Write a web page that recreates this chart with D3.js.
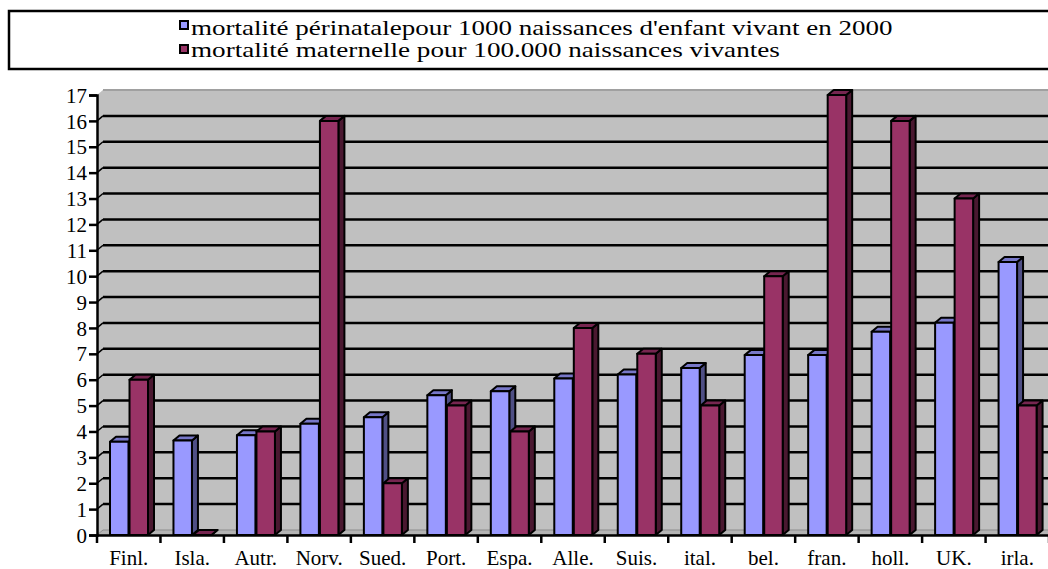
<!DOCTYPE html>
<html>
<head>
<meta charset="utf-8">
<script src="https://cdn.jsdelivr.net/npm/d3@7"></script>
<style>
  body { margin: 0; background: #fff; }
  svg { display: block; }
</style>
</head>
<body>
<svg id="chart"></svg>
<script>
// data
var categories = ['Finl.', 'Isla.', 'Autr.', 'Norv.', 'Sued.', 'Port.', 'Espa.', 'Alle.', 'Suis.', 'ital.', 'bel.', 'fran.', 'holl.', 'UK.', 'irla.'];
var perinatal = [3.6, 3.65, 3.85, 4.3, 4.55, 5.4, 5.55, 6.05, 6.2, 6.45, 6.95, 6.95, 7.85, 8.2, 10.55];
var maternal = [6, 0, 4, 16, 2, 5, 4, 8, 7, 5, 10, 17, 16, 13, 5];
var seriesNames = ['mortalit\u00e9 p\u00e9rinatalepour 1000 naissances d\'enfant vivant en 2000', 'mortalit\u00e9 maternelle pour 100.000 naissances vivantes'];
var yTicks = d3.range(0, 18);

var width = 1048;
var height = 569;
var dx = 6, dy = 5; // 3d depth
var serif = '"Liberation Serif", "Times New Roman", serif';

var svg = d3.select('#chart')
  .attr('width', width)
  .attr('height', height);

var y = d3.scaleLinear().domain([0, 17]).range([535, 95]);
var x = d3.scaleBand().domain(categories).range([97, 97 + 15 * 63.47]);
var xs = d3.scaleBand().domain([0, 1]).range([13, 51]).paddingInner(0.053);

var colors = [
  {front: '#9999FF', side: '#4F4F85', top: '#7777C8'},
  {front: '#993366', side: '#4A1830', top: '#762650'}
];

// walls and floor
var x0 = 97, yb = 535, yt = 95;
svg.append('polygon')
  .attr('points', [[x0, yb], [x0, yt], [x0 + dx, yt - dy], [x0 + dx, yb - dy]].join(' '))
  .attr('fill', '#C0C0C0');
svg.append('rect')
  .attr('x', x0 + dx).attr('y', yt - dy)
  .attr('width', width - x0).attr('height', yb - yt)
  .attr('fill', '#C0C0C0');
svg.append('line')
  .attr('x1', x0 + dx).attr('x2', width)
  .attr('y1', yt - dy).attr('y2', yt - dy)
  .attr('stroke', '#A0A0A0').attr('stroke-width', 2);
svg.append('polygon')
  .attr('points', [[x0, yb], [x0 + dx, yb - dy], [width + 10, yb - dy], [width + 10, yb]].join(' '))
  .attr('fill', '#B4B4B4').attr('stroke', '#8C8C8C').attr('stroke-width', 1);

// gridlines
var grid = svg.append('g');
yTicks.filter(function (v) { return v > 0 && v < 17; }).forEach(function (v) {
  grid.append('line')
    .attr('x1', x0 + dx).attr('x2', width)
    .attr('y1', y(v) - dy).attr('y2', y(v) - dy)
    .attr('stroke', '#000').attr('stroke-width', 2.5);
  grid.append('line')
    .attr('x1', x0).attr('x2', x0 + dx)
    .attr('y1', y(v)).attr('y2', y(v) - dy)
    .attr('stroke', '#000').attr('stroke-width', 1.5);
});

// bars
var bars = svg.append('g');
categories.forEach(function (c, i) {
  [perinatal[i], maternal[i]].forEach(function (v, s) {
    var bx = x(c) + xs(s);
    var w = xs.bandwidth();
    var top = y(v);
    var col = colors[s];
    var g = bars.append('g')
      .attr('stroke', '#000').attr('stroke-width', 2).attr('stroke-linejoin', 'round');
    g.append('polygon')
      .attr('points', [[bx + w, top], [bx + w + dx, top - dy], [bx + w + dx, yb - dy], [bx + w, yb]].join(' '))
      .attr('fill', col.side);
    g.append('polygon')
      .attr('points', [[bx, top], [bx + dx, top - dy], [bx + w + dx, top - dy], [bx + w, top]].join(' '))
      .attr('fill', col.top);
    if (v > 0) {
      g.append('rect')
        .attr('x', bx).attr('y', top)
        .attr('width', w).attr('height', yb - top)
        .attr('fill', col.front);
    }
  });
});

// y axis
var yAxis = svg.append('g')
  .attr('transform', 'translate(' + x0 + ',0)')
  .call(d3.axisLeft(y).tickValues(yTicks).tickSize(8).tickPadding(2).tickFormat(d3.format('d')));
yAxis.select('.domain').attr('stroke', '#000').attr('stroke-width', 2.5);
yAxis.selectAll('.tick line').attr('stroke', '#000').attr('stroke-width', 2.5);
yAxis.selectAll('.tick text')
  .style('font-family', serif)
  .style('font-size', '21px')
  .attr('fill', '#000')
  .attr('dy', '0.34em');

// x axis
var xAxis = svg.append('g')
  .attr('transform', 'translate(0,' + yb + ')')
  .call(d3.axisBottom(x).tickSize(0).tickPadding(0));
xAxis.select('.domain').attr('stroke', '#000').attr('stroke-width', 2.5);
xAxis.selectAll('.tick text')
  .style('font-family', serif)
  .style('font-size', '21px')
  .attr('fill', '#000')
  .attr('y', 30).attr('dy', 0);
categories.concat(['end']).forEach(function (c, i) {
  var tx = i < categories.length ? x(c) : x.range()[1];
  xAxis.append('line')
    .attr('x1', tx).attr('x2', tx)
    .attr('y1', 0).attr('y2', 8)
    .attr('stroke', '#000').attr('stroke-width', 2.5);
});

// legend, drawn the same way as the axis labels
var legend = svg.append('g');
legend.append('rect')
  .attr('x', 9).attr('y', 11)
  .attr('width', width + 10).attr('height', 58)
  .attr('fill', '#fff').attr('stroke', '#000').attr('stroke-width', 2.5);
var legendWidths = [702, 589];
seriesNames.forEach(function (name, i) {
  legend.append('rect')
    .attr('x', 180).attr('y', 21 + i * 24)
    .attr('width', 8).attr('height', 8)
    .attr('fill', colors[i].front)
    .attr('stroke', '#000').attr('stroke-width', 2);
  var t = legend.append('text')
    .style('font-family', serif)
    .style('font-size', '22px')
    .attr('fill', '#000')
    .text(name);
  // stretch horizontally like the original
  var k = legendWidths[i] / t.node().getComputedTextLength();
  t.attr('transform', 'translate(191,' + (35 + i * 22) + ') scale(' + k + ',1)');
});
</script>
</body>
</html>
